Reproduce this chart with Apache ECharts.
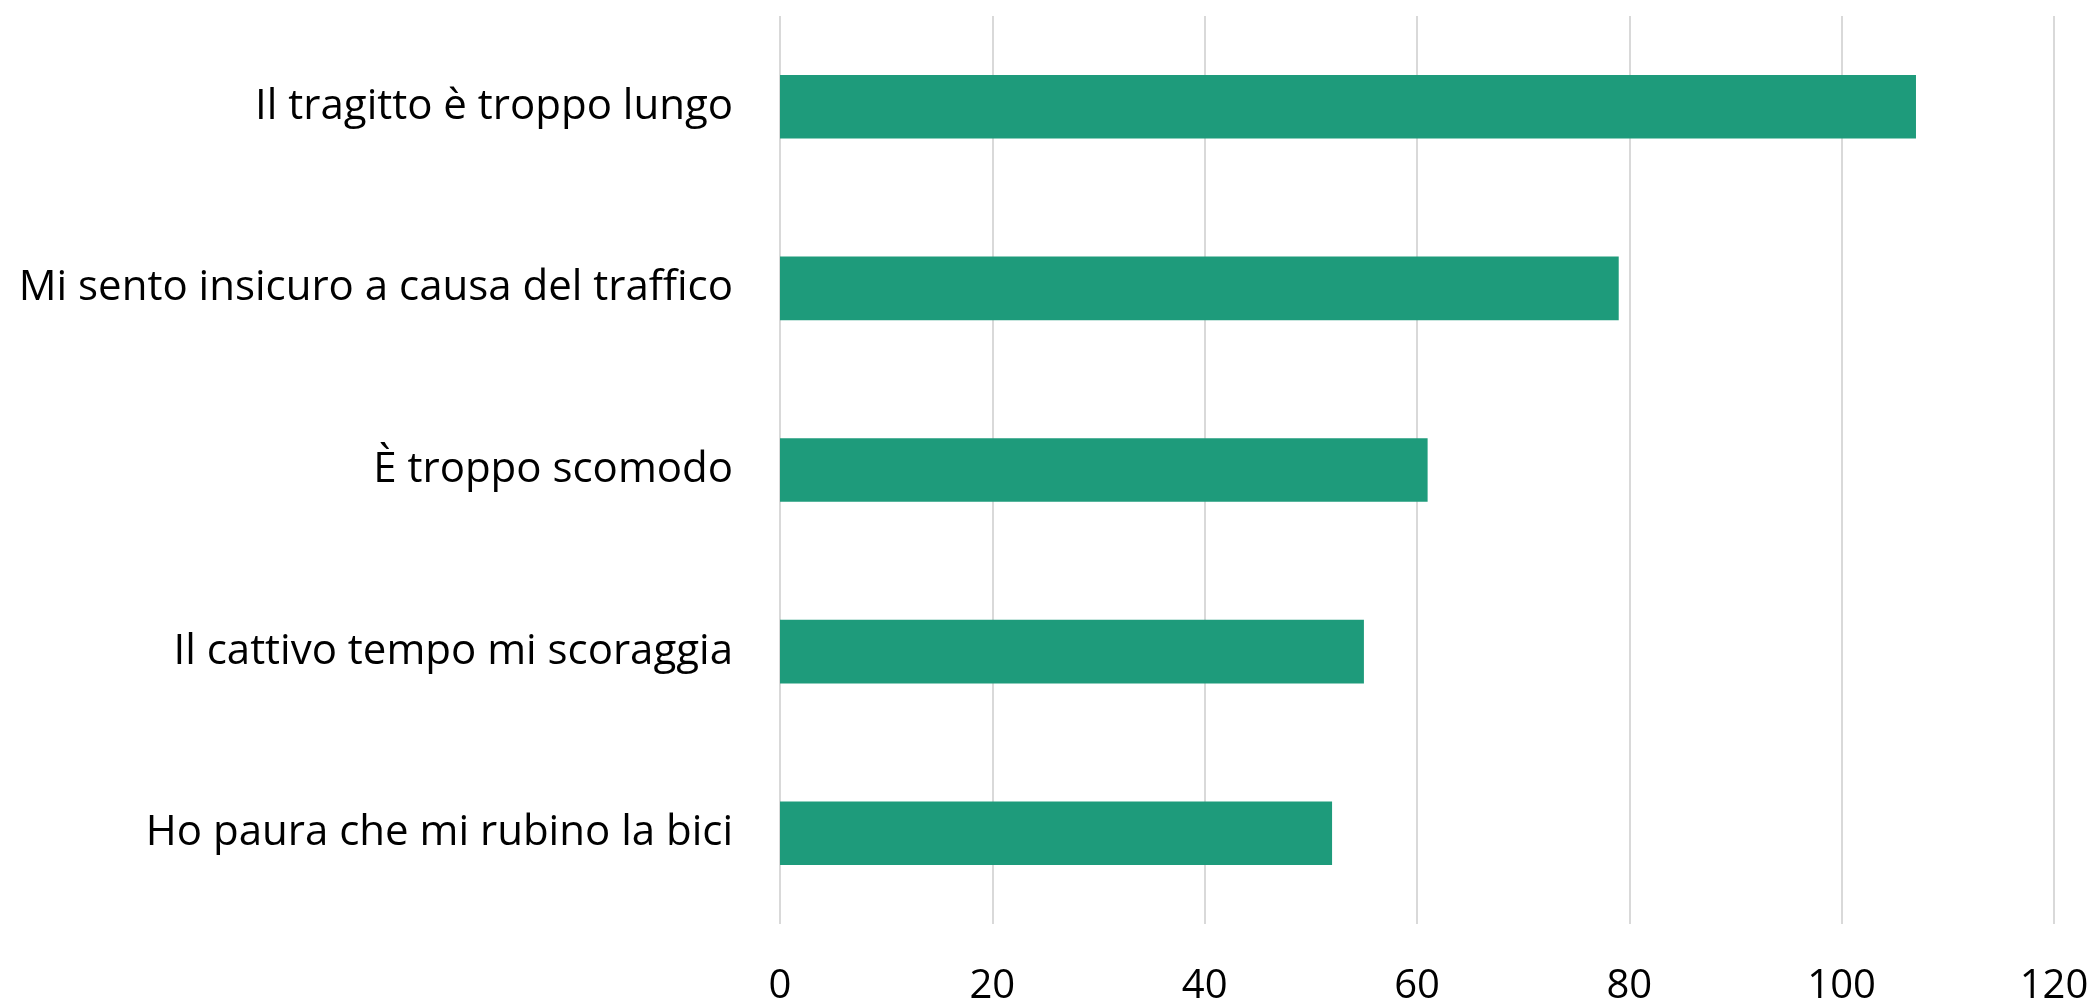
<!DOCTYPE html>
<html>
<head>
<meta charset="utf-8">
<script src="https://cdn.jsdelivr.net/npm/echarts@6/dist/echarts.min.js"></script>
<style>
html,body{margin:0;padding:0;background:#fff;}
#chart{width:2097px;height:1007px;}
</style>
</head>
<body>
<div id="chart"></div>
<script>
const categories = [
  "Il tragitto è troppo lungo",
  "Mi sento insicuro a causa del traffico",
  "È troppo scomodo",
  "Il cattivo tempo mi scoraggia",
  "Ho paura che mi rubino la bici"
];
const values = [107, 79, 61, 55, 52];
const xTicks = { min: 0, max: 120, interval: 20 };

const chart = echarts.init(document.getElementById('chart'));
chart.setOption({
  animation: false,
  backgroundColor: '#ffffff',
  grid: { left: 780, right: 43, top: 16, bottom: 81, containLabel: false },
  xAxis: {
    type: 'value',
    min: xTicks.min, max: xTicks.max, interval: xTicks.interval,
    axisLine: { show: false },
    axisTick: { show: false },
    splitLine: { show: true, lineStyle: { color: '#d9d9d9', width: 2 } },
    axisLabel: { color: '#000', fontFamily: 'Open Sans', fontSize: 40, margin: 43 }
  },
  yAxis: {
    type: 'category',
    data: categories,
    inverse: true,
    axisLine: { show: false },
    axisTick: { show: false },
    splitLine: { show: false },
    axisLabel: { color: '#000', fontFamily: 'Open Sans', fontSize: 42, margin: 47 }
  },
  series: [{
    type: 'bar',
    data: values,
    barWidth: '35%',
    itemStyle: { color: '#1e9b7b' }
  }]
});
</script>
</body>
</html>
